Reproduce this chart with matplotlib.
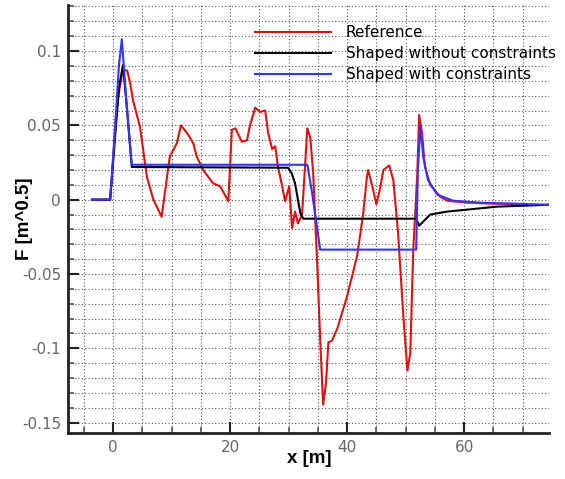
import numpy as np
import matplotlib
matplotlib.use("Agg")
import matplotlib.pyplot as plt
from matplotlib.ticker import MultipleLocator, FuncFormatter

# Reference signal (red)
x_ref = [-3.6, -0.5, -0.2, 0.5, 1.0, 1.5, 1.7, 2.4, 2.9, 3.4, 4.6, 5.8, 6.9, 8.3,
         9.7, 10.9, 11.6, 12.8, 13.7, 14.3, 15.4, 17.1, 18.3, 19.7, 20.3, 20.9,
         22.0, 22.9, 23.4, 24.3, 25.1, 26.0, 26.5, 27.2, 27.7, 28.2, 28.9, 29.4,
         30.1, 30.6, 31.1, 31.6, 32.3, 33.2, 33.7, 34.2, 34.9, 35.4, 35.9, 36.4,
         36.8, 37.4, 38.3, 40.0, 41.7, 42.7, 43.4, 43.6, 44.3, 45.0, 45.6, 46.2,
         47.2, 47.9, 48.7, 49.6, 50.3, 50.8, 51.3, 52.0, 52.3, 52.8, 53.3, 54.2,
         55.9, 57.1, 60.5, 65.0, 70.8]
y_ref = [0.0, 0.0, 0.015, 0.056, 0.072, 0.084, 0.087, 0.087, 0.079, 0.067, 0.049,
         0.015, 0.0, -0.0115, 0.029, 0.038, 0.05, 0.044, 0.038, 0.029, 0.020,
         0.011, 0.009, -0.001, 0.047, 0.048, 0.039, 0.040, 0.050, 0.062, 0.059,
         0.060, 0.045, 0.034, 0.036, 0.022, 0.009, -0.001, 0.009, -0.019, -0.008,
         -0.016, -0.010, 0.048, 0.042, 0.018, -0.045, -0.094, -0.138, -0.123,
         -0.096, -0.095, -0.087, -0.065, -0.038, -0.011, 0.016, 0.020, 0.009,
         -0.003, 0.007, 0.020, 0.023, 0.013, -0.022, -0.078, -0.115, -0.103,
         -0.034, 0.018, 0.057, 0.045, 0.022, 0.010, 0.002, -0.0007, -0.002,
         -0.0027, -0.003]

# Shaped without constraints (black)
x_free = [-3.6, -0.5, 0.3, 1.0, 1.7, 2.4, 3.2, 29.9, 30.5, 31.1, 32.0, 32.5,
          51.8, 52.3, 53.0, 54.2, 57.1, 60.5, 65.6, 74.5]
y_free = [0.0, 0.0, 0.04, 0.075, 0.0906, 0.06, 0.022, 0.0215, 0.018, 0.011,
          -0.009, -0.0128, -0.0128, -0.0175, -0.0148, -0.010, -0.008, -0.0067,
          -0.0047, -0.0034]

# Shaped with constraints (blue)
x_con = [-3.6, -0.5, 0.3, 1.0, 1.5, 2.2, 3.2, 33.2, 34.0, 35.4, 51.8, 52.1,
         52.5, 53.0, 53.8, 55.4, 58.1, 62.7, 74.5]
y_con = [0.0, 0.0, 0.045, 0.09, 0.108, 0.07, 0.0235, 0.0235, 0.005, -0.0336,
         -0.0336, 0.02, 0.050, 0.029, 0.0134, 0.0034, -0.0007, -0.002, -0.0034]

plt.rcParams['font.family'] = ['DejaVu Sans']

fig = plt.figure(figsize=(5.65, 4.79), dpi=100)
ax = fig.add_axes([68 / 565, 46 / 479, 481 / 565, 428 / 479])

ax.plot(x_ref, y_ref, color='#dd1111', lw=1.5, label='Reference')
ax.plot(x_free, y_free, color='black', lw=1.5, label='Shaped without constraints')
ax.plot(x_con, y_con, color='#3333ff', lw=1.5, label='Shaped with constraints')

ax.set_xlim(-7.7, 74.5)
ax.set_ylim(-0.157, 0.131)

ax.xaxis.set_major_locator(MultipleLocator(20))
ax.xaxis.set_minor_locator(MultipleLocator(5))
ax.yaxis.set_major_locator(MultipleLocator(0.05))
ax.yaxis.set_minor_locator(MultipleLocator(0.01))
ax.yaxis.set_major_formatter(FuncFormatter(lambda v, p: ('%g' % round(v, 3))))
ax.xaxis.set_major_formatter(FuncFormatter(lambda v, p: ('%g' % v)))

ax.grid(True, which='both', ls=(0, (1, 2)), color='#555555', lw=0.8)
ax.set_axisbelow(True)

for s in ('top', 'right'):
    ax.spines[s].set_visible(False)
for s in ('left', 'bottom'):
    ax.spines[s].set_linewidth(2)
    ax.spines[s].set_color('#222222')

ax.tick_params(which='major', direction='in', length=8, width=1.5,
               labelsize=11, labelcolor='#666666', color='#222222', pad=5)
ax.tick_params(which='minor', direction='in', length=4, width=1.2, color='#555555')

lab_font = dict(family='Liberation Sans', fontsize=13.5, fontweight='bold')
ax.set_xlabel('x [m]', **lab_font)
ax.set_ylabel('F [m^0.5]', **lab_font)
ax.xaxis.set_label_coords(0.501, -0.04)
ax.yaxis.set_label_coords(-0.073, 0.5)

ax.legend(loc='upper left', bbox_to_anchor=(255 / 565, 1 - 25 / 479),
          bbox_transform=fig.transFigure, frameon=False, fontsize=11,
          handlelength=5.0, handletextpad=0.95, labelspacing=0.4,
          borderpad=0, borderaxespad=0)

fig.savefig('out.png', dpi=100)
